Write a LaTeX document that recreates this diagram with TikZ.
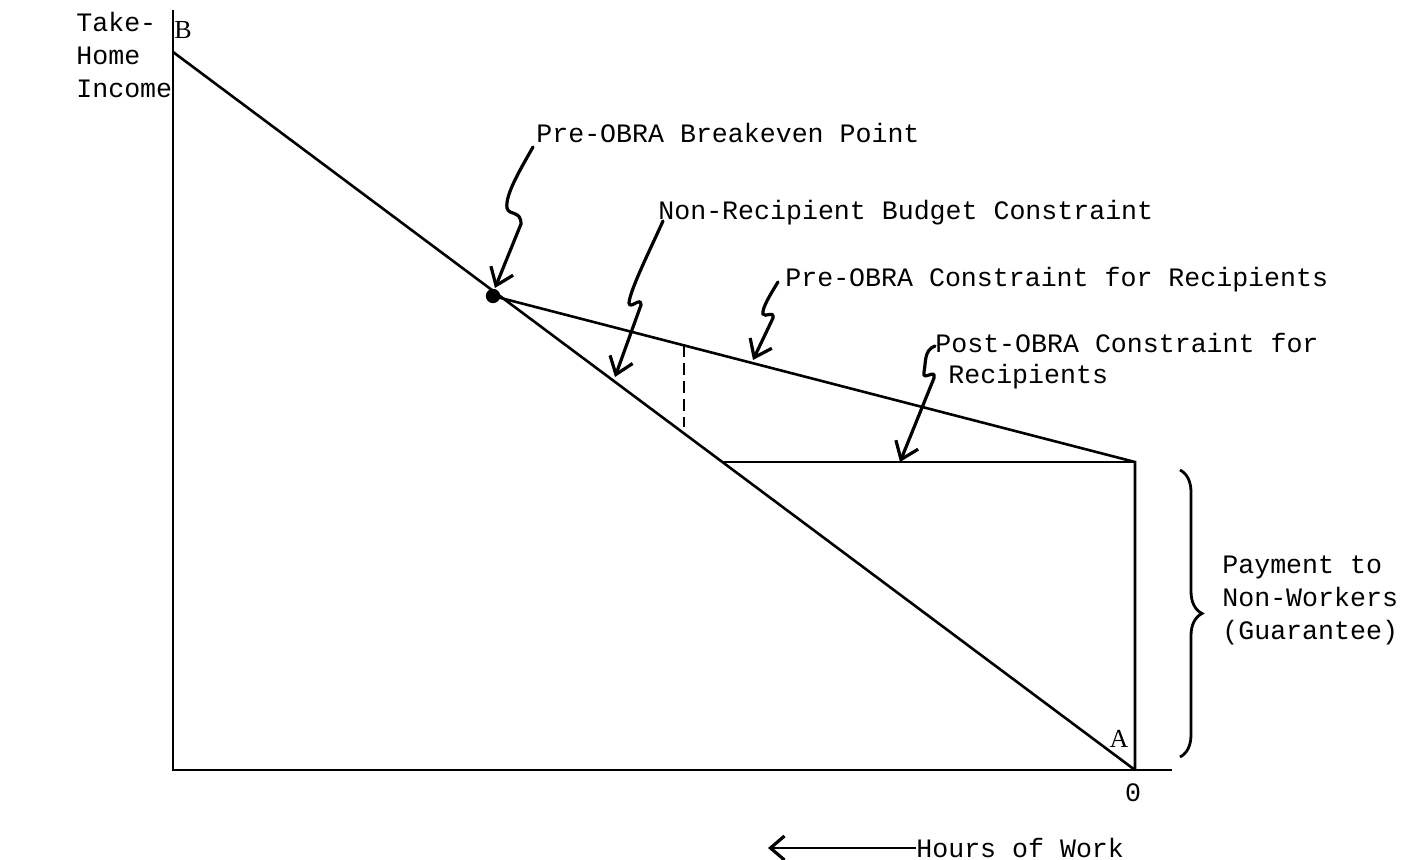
\documentclass[tikz,border=0pt]{standalone}
\usepackage{fontspec}
\setmonofont{Liberation Mono}
\newfontfamily\lblserif{Liberation Serif}
\usetikzlibrary{arrows.meta,decorations.pathreplacing}
\tikzset{
  axis/.style={line width=1.2pt},
  cline/.style={line width=1.3pt},
  squig/.style={line width=1.6pt, line cap=round, -{Straight Barb[length=8pt,width=12pt,line width=1.6pt]}},
  lbl/.style={inner sep=0pt, anchor=west, font=\ttfamily\fontsize{13.3}{16.5}\selectfont, align=left},
  pt/.style={inner sep=0pt, font=\lblserif\fontsize{13}{15}\selectfont}
}
\begin{document}
\begin{tikzpicture}[x=0.5pt,y=-0.5pt]
\useasboundingbox (0,0) rectangle (1404,860);
% key points
\coordinate (Ytop) at (173,10);
\coordinate (Orig) at (173,770);
\coordinate (Xend) at (1172,770);
\coordinate (B) at (173,52);
\coordinate (A) at (1135,770);
\coordinate (E) at (493,296);
\coordinate (G) at (1135,462);
\coordinate (P) at (723,462);
\coordinate (D1) at (684,345);
\coordinate (D2) at (684,427);
% axes
\draw[axis] (Ytop) -- (Orig) -- (Xend);
% constraints
\draw[cline] (B) -- (A);
\draw[cline] (E) -- (G) -- (A);
\draw[cline] (P) -- (G);
\draw[line width=1.2pt, dash pattern=on 6pt off 3pt] (D1) -- (D2);
\fill (E) circle (3.6pt);
% labels
\node[lbl] (yl) at (76,55) {Take-\\Home\\Income};
\node[pt] (Bl) at (183,30) {B};
\node[pt] (Al) at (1119,739) {A};
\node[lbl, anchor=center] (zero) at (1133,793) {0};
\node[lbl] (t1) at (536,133) {Pre-OBRA Breakeven Point};
\node[lbl] (t2) at (658,213) {Non-Recipient Budget Constraint};
\node[lbl] (t3) at (785,280) {Pre-OBRA Constraint for Recipients};
\node[lbl] (t4a) at (935,343) {Post-OBRA Constraint for};
\node[lbl] (t4b) at (948,377) {Recipients};
\node[lbl] (pay) at (1222,600) {Payment to\\Non-Workers\\(Guarantee)};
\node[lbl] (hw) at (916,848) {Hours of Work};
% squiggly arrows
\draw[squig] (533,147) .. controls (520,170) and (505,195) .. (507,208)
   .. controls (509,216) and (521,210) .. (521,224) -- (495,288);
\draw[squig] (663,221) .. controls (650,250) and (630,290) .. (629,303)
   .. controls (630,310) and (641,296) .. (641,305) -- (615,377);
\draw[squig] (778,282) .. controls (770,295) and (762,308) .. (763,314)
   .. controls (765,318) and (774,310) .. (773,318) -- (753,360);
\draw[squig] (935,346) .. controls (924,350) and (926,362) .. (924,372)
   .. controls (922,382) and (936,368) .. (934,378) -- (900,462);
% brace
\draw[line width=1.4pt, decorate, decoration={brace, amplitude=11pt}] (1180,470) -- (1180,757);
% hours arrow
\draw[line width=1.3pt, -{Straight Barb[length=7pt,width=12pt,line width=1.6pt]}] (hw.west) -- (768,848);
\end{tikzpicture}
\end{document}
